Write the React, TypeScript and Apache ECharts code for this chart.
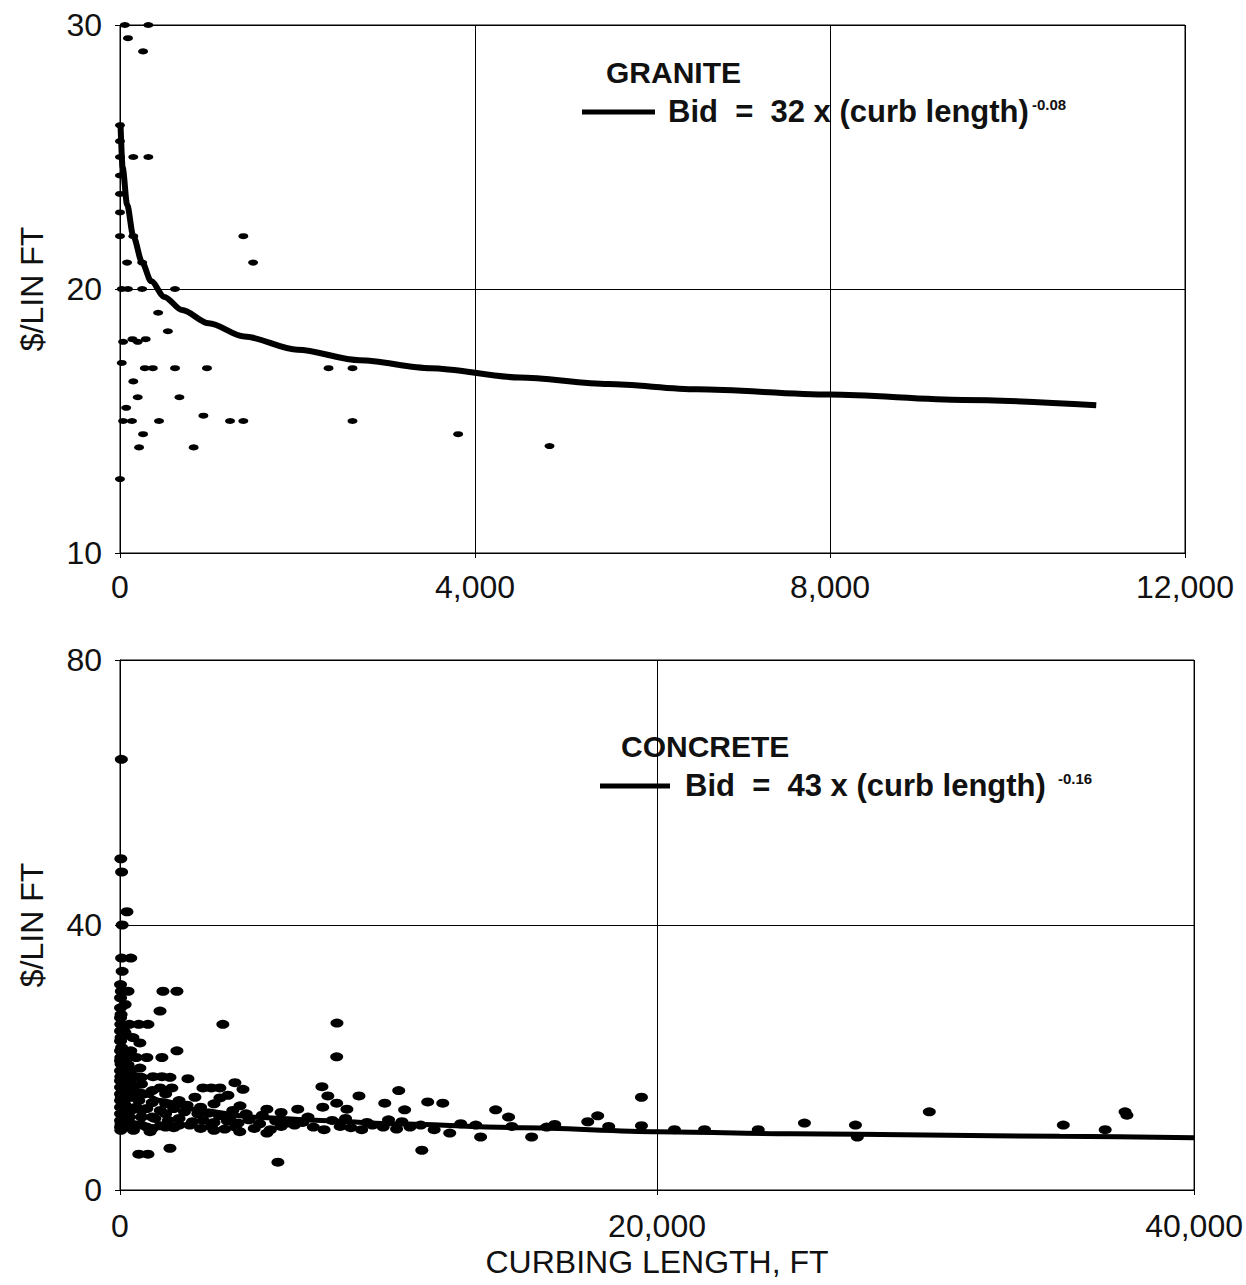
import React, { useEffect, useRef } from "react";
import * as echarts from "echarts";

// ---- Granite (top panel) ----
const graniteXTicks = [0, 4000, 8000, 12000];
const graniteYTicks = [10, 20, 30];
const granitePoints: [number, number][] = [
  [55, 30], [320, 30], [90, 29.5], [260, 29.0],
  [0, 26.2], [0, 25.6], [0, 25], [150, 25], [320, 25],
  [0, 24.3], [0, 23.6], [0, 22.9], [0, 22], [150, 22], [1390, 22],
  [80, 21], [250, 21], [1500, 21],
  [20, 20], [90, 20], [250, 20], [620, 20],
  [430, 19.1], [540, 18.4], [35, 18], [200, 18], [140, 18.1], [290, 18.1],
  [20, 17.2], [280, 17], [370, 17], [620, 17], [980, 17], [2350, 17], [2620, 17],
  [150, 16.5], [200, 15.9], [670, 15.9], [70, 15.5],
  [35, 15], [135, 15], [440, 15], [1240, 15], [1390, 15], [2620, 15], [940, 15.2],
  [260, 14.5], [3810, 14.5], [215, 14], [830, 14], [4840, 14.05], [0, 12.8],
];
const graniteCurve: [number, number][] = [
  [5, 26.3], [30, 24.6], [80, 23.2], [150, 22.0], [250, 21.0], [350, 20.3],
  [500, 19.7], [700, 19.2], [1000, 18.7], [1400, 18.2], [2000, 17.7], [2700, 17.3],
  [3500, 17.0], [4500, 16.65], [5500, 16.4], [6500, 16.2], [8000, 16.0],
  [9500, 15.8], [11000, 15.6],
];

// ---- Concrete (bottom panel) ----
const concreteXTicks = [0, 20000, 40000];
const concreteYTicks = [0, 40, 80];
const concretePoints: [number, number][] = [
  [50, 65], [30, 50], [60, 48], [260, 42], [80, 40], [60, 35], [400, 35], [80, 33],
  [50, 30], [300, 30], [1600, 30], [2120, 30], [190, 28], [1490, 27], [40, 26.5],
  [30, 25], [350, 25], [700, 25], [1040, 25], [3830, 25], [190, 23.7], [480, 23],
  [40, 23], [740, 22.2], [60, 21.5], [2120, 21], [30, 20], [300, 20], [600, 20],
  [1000, 20], [1560, 20], [40, 19], [300, 18.9], [740, 18.4], [60, 18], [30, 17.1],
  [300, 17.1], [600, 17.1], [1230, 17.1], [1560, 17.1], [1860, 17], [2530, 16.8],
  [40, 16.5], [400, 16], [800, 16], [4280, 16.2], [3090, 15.4], [3400, 15.4],
  [3720, 15.4], [1490, 15.4], [1930, 15.4], [4580, 15.2], [100, 15], [500, 15],
  [900, 14.5], [2790, 14], [3720, 13.9], [4020, 14.3], [50, 14], [300, 14],
  [700, 13.5], [1200, 13.2], [1700, 13], [4470, 12.7], [5470, 12.2], [200, 12.8],
  [600, 12.5], [1000, 12.3], [1500, 12], [2000, 12.3], [2400, 11.8], [2900, 11.5],
  [3300, 11.6], [3700, 11.2], [4100, 11.0], [50, 11.5], [350, 11], [800, 11],
  [1300, 10.8], [1800, 10.5], [2200, 10.8], [2700, 10.3], [3100, 10.5], [3500, 10.2],
  [4000, 10.4], [4400, 10.1], [4800, 10.6], [5200, 10.0], [5800, 10.4], [6200, 10.1],
  [40, 10], [250, 10.2], [600, 9.8], [1000, 9.5], [1500, 9.7], [2000, 9.4],
  [2600, 9.8], [3000, 9.3], [3400, 9.6], [3900, 9.2], [4300, 9.5], [5000, 9.3],
  [5600, 9.1], [6000, 9.6], [1120, 8.8], [4460, 8.8], [5470, 8.6], [30, 9], [500, 9],
  [700, 5.4], [1040, 5.4], [1860, 6.3], [5880, 4.2],
  [20, 31], [20, 29], [20, 27.5], [20, 26], [20, 24], [20, 22.5], [20, 21], [20, 19.5],
  [20, 18], [20, 16.5], [20, 15.5], [20, 14.5], [20, 13.5], [20, 12.5], [20, 11.5],
  [20, 10.5], [20, 9.5], [150, 24], [150, 21], [150, 19], [150, 16], [150, 14.5],
  [150, 13], [150, 12], [150, 10.5], [150, 9.5], [400, 21], [400, 18], [400, 14],
  [400, 12], [400, 10], [800, 17], [800, 14.5], [800, 12], [800, 9.8], [1200, 15],
  [1200, 11], [1200, 9.3], [1700, 14.5], [1700, 11.5], [1700, 9.5], [2200, 13.5],
  [2200, 9.8], [2500, 12.8], [3000, 12.5], [3500, 13], [3500, 9], [4200, 12],
  [4700, 11.5], [5300, 11.3], [6000, 11.7], [6500, 9.8], [7000, 11], [7900, 10.5],
  [8400, 10.8], [9200, 10.2], [10000, 10.6], [10500, 10.3],
  [8080, 25.2], [8070, 20.1], [7520, 15.6], [7740, 14.2], [8900, 14.2], [10380, 15],
  [7550, 12.5], [8070, 13.1], [8450, 12.2], [9860, 13.1], [11460, 13.3], [12020, 13.1],
  [6620, 12.2], [10600, 12.1], [6800, 10.2], [7200, 9.5], [7600, 9.1], [8200, 9.6],
  [8600, 9.4], [9000, 9.1], [9400, 9.8], [9800, 9.5], [10300, 9.2], [10800, 9.5],
  [11200, 9.8], [11700, 9.1], [11240, 6.0],
  [12280, 8.6], [13430, 8.0], [15330, 8.0], [13990, 12.1], [14470, 11.0], [17790, 11.2],
  [19420, 14.0], [12690, 10.0], [13250, 9.8], [14590, 9.6], [15890, 9.5], [16190, 9.9],
  [17420, 10.3], [18200, 9.6], [19420, 9.7], [20650, 9.1], [21770, 9.1], [23770, 9.1],
  [25490, 10.1], [27390, 9.8], [27460, 8.0], [30140, 11.8], [35130, 9.8], [36690, 9.1],
  [37430, 11.8], [37500, 11.3],
];
const concreteCurve: [number, number][] = [
  [100, 20], [300, 17], [700, 15], [1500, 13.5], [3000, 12], [5000, 11], [7500, 10.5],
  [10000, 10], [15000, 9.4], [20000, 8.8], [25000, 8.5], [30000, 8.3], [35000, 8.1],
  [40000, 7.9],
];

const FONT = "Liberation Sans, Arial, Helvetica, sans-serif";

function fmt(v: number) {
  return v.toLocaleString("en-US");
}

export default function App() {
  const ref = useRef<HTMLDivElement>(null);
  useEffect(() => {
    document.body.style.margin = "0";
    const chart = echarts.init(ref.current!, null, { renderer: "svg" });
    const axisLabel = { color: "#111", fontFamily: FONT, fontSize: 32 };
    const line = { lineStyle: { color: "#000", width: 1 } };
    const split = { show: true, lineStyle: { color: "#000", width: 1 } };
    const tick = { show: true, inside: false, length: 5, lineStyle: { color: "#000" } };
    chart.setOption({
      animation: false,
      backgroundColor: "#fff",
      grid: [
        { left: 120, top: 25, width: 1065, height: 528, show: true, borderColor: "#000", borderWidth: 1, backgroundColor: "transparent" },
        { left: 120, top: 660, width: 1075, height: 530, show: true, borderColor: "#000", borderWidth: 1, backgroundColor: "transparent" },
      ],
      xAxis: [
        {
          type: "value", gridIndex: 0, min: graniteXTicks[0], max: graniteXTicks[graniteXTicks.length - 1], interval: 4000,
          axisLine: line, axisTick: tick, splitLine: split,
          axisLabel: { ...axisLabel, margin: 18, formatter: fmt },
        },
        {
          type: "value", gridIndex: 1, min: concreteXTicks[0], max: concreteXTicks[concreteXTicks.length - 1], interval: 20000,
          axisLine: line, axisTick: tick, splitLine: split,
          axisLabel: { ...axisLabel, margin: 20, formatter: fmt },
          name: "CURBING LENGTH, FT", nameLocation: "middle", nameGap: 56,
          nameTextStyle: { color: "#111", fontFamily: FONT, fontSize: 32 },
        },
      ],
      yAxis: [
        {
          type: "value", gridIndex: 0, min: graniteYTicks[0], max: graniteYTicks[graniteYTicks.length - 1], interval: 10,
          axisLine: { show: true, ...line }, axisTick: tick, splitLine: split,
          axisLabel: { ...axisLabel, margin: 18 },
          name: "$/LIN FT", nameLocation: "middle", nameGap: 72,
          nameTextStyle: { color: "#111", fontFamily: FONT, fontSize: 32 },
        },
        {
          type: "value", gridIndex: 1, min: concreteYTicks[0], max: concreteYTicks[concreteYTicks.length - 1], interval: 40,
          axisLine: { show: true, ...line }, axisTick: tick, splitLine: split,
          axisLabel: { ...axisLabel, margin: 18 },
          name: "$/LIN FT", nameLocation: "middle", nameGap: 72,
          nameTextStyle: { color: "#111", fontFamily: FONT, fontSize: 32 },
        },
      ],
      series: [
        {
          type: "scatter", xAxisIndex: 0, yAxisIndex: 0, data: granitePoints,
          symbol: "circle", symbolSize: [10, 6], itemStyle: { color: "#000", opacity: 1 }, z: 3,
        },
        {
          type: "line", xAxisIndex: 0, yAxisIndex: 0, data: graniteCurve, showSymbol: false,
          smooth: 0.3, smoothMonotone: "x", lineStyle: { color: "#000", width: 6 }, z: 4,
        },
        {
          type: "scatter", xAxisIndex: 1, yAxisIndex: 1, data: concretePoints,
          symbol: "circle", symbolSize: [13, 9], itemStyle: { color: "#000", opacity: 1 }, z: 3,
        },
        {
          type: "line", xAxisIndex: 1, yAxisIndex: 1, data: concreteCurve, showSymbol: false,
          smooth: 0.3, smoothMonotone: "x", lineStyle: { color: "#000", width: 5 }, z: 4,
        },
      ],
      graphic: [
        { type: "text", left: 606, top: 57, style: { text: "GRANITE", fill: "#111", font: `bold 30px ${FONT}` } },
        { type: "line", shape: { x1: 582, y1: 112, x2: 655, y2: 112 }, style: { stroke: "#000", lineWidth: 5 } },
        { type: "text", left: 668, top: 96, style: { text: "Bid  =  32 x (curb length)", fill: "#111", font: `bold 31px ${FONT}` } },
        { type: "text", left: 1032, top: 97, style: { text: "-0.08", fill: "#111", font: `bold 15px ${FONT}` } },
        { type: "text", left: 621, top: 731, style: { text: "CONCRETE", fill: "#111", font: `bold 30px ${FONT}` } },
        { type: "line", shape: { x1: 600, y1: 786, x2: 670, y2: 786 }, style: { stroke: "#000", lineWidth: 5 } },
        { type: "text", left: 685, top: 770, style: { text: "Bid  =  43 x (curb length)", fill: "#111", font: `bold 31px ${FONT}` } },
        { type: "text", left: 1058, top: 771, style: { text: "-0.16", fill: "#111", font: `bold 15px ${FONT}` } },
      ],
    });
    return () => chart.dispose();
  }, []);
  return (
    <div
      ref={ref}
      style={{ position: "absolute", left: 0, top: 0, width: 1246, height: 1285 }}
    />
  );
}
